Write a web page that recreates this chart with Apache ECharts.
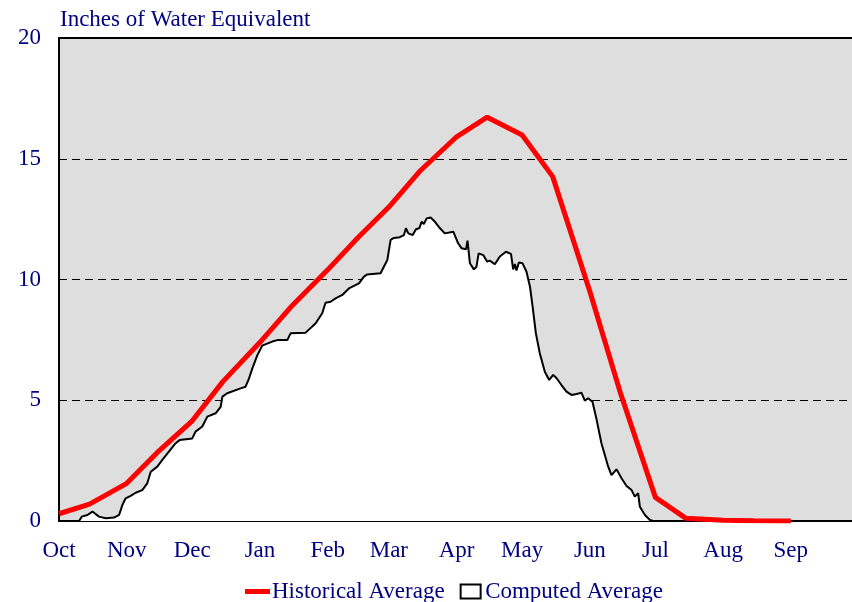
<!DOCTYPE html>
<html>
<head>
<meta charset="utf-8">
<script src="https://cdn.jsdelivr.net/npm/echarts@6/dist/echarts.min.js"></script>
<style>
html,body{margin:0;padding:0;background:#fff;}
#chart{width:852px;height:602px;}
</style>
</head>
<body>
<div id="chart"></div>
<script>
// Month labels (water year, day offsets from Oct 1)
var monthNames = ['Oct','Nov','Dec','Jan','Feb','Mar','Apr','May','Jun','Jul','Aug','Sep'];
var monthStarts = [0,31,61,92,123,151,182,212,243,273,304,335];
var yTicks = [0,5,10,15,20];

// Historical Average (day of water year, inches)
var histDays = [0,14,31,45,61,75,92,106,123,137,151,165,182,196,212,226,243,257,273,287,304,318,335];
var histVals = [0.3,0.7,1.56,2.84,4.15,5.77,7.4,8.85,10.4,11.75,13.0,14.47,15.91,16.72,15.98,14.26,9.5,5.3,0.98,0.11,0.03,0.01,0.0];

// Computed Average (day of water year, inches)
var compDays = [9.2,10.4,13,15.3,16,18.3,21.4,25.2,27.5,29,30.5,32.8,35.1,38.1,40.4,42,45,47.3,50.3,53.4,55.2,61,62.5,65.6,67.9,71.7,74,74.8,77,83.1,85.4,87,88.5,90.8,93,97.6,100,104.5,106,112.9,117.5,120.5,122,124.3,126.6,129.7,132.7,137.3,139.6,141.1,147.2,148.7,150.3,151.8,153.3,156,157.9,158.8,159.9,161.9,163.4,164.9,166,167,168.3,170.1,172.1,174.4,176.6,180.5,182.7,184.3,186.3,187,188.1,189.9,191.1,192.1,194.2,196,197.2,199.5,201.8,204.6,206.9,207.9,208.7,209.4,210.5,212.2,214,215.6,216.8,218.3,220.1,222.4,224.4,226.2,227.8,230,232.3,234.6,236.9,239.2,240.7,242.2,244.2,245.8,248.3,251.4,252.9,255.2,257.5,259.8,262.1,263.6,265.1,265.9,268.2,270.5,272];
var compVals = [0,0.18,0.25,0.39,0.32,0.18,0.11,0.14,0.25,0.66,0.94,1.04,1.17,1.28,1.56,2.04,2.25,2.53,2.87,3.22,3.35,3.42,3.70,3.91,4.32,4.46,4.73,5.15,5.29,5.49,5.56,5.91,6.32,6.87,7.26,7.43,7.49,7.49,7.77,7.80,8.19,8.60,9.04,9.08,9.22,9.36,9.63,9.84,10.12,10.21,10.26,10.53,10.81,11.64,11.72,11.75,11.84,12.12,11.91,11.84,12.08,12.12,12.39,12.3,12.53,12.57,12.39,12.12,11.91,11.98,11.5,11.29,11.25,11.61,10.67,10.42,10.53,11.08,11.01,10.74,10.78,10.63,10.95,11.15,11.06,10.42,10.64,10.37,10.7,10.67,10.32,9.70,8.88,7.77,6.94,6.18,5.84,6.05,5.91,5.63,5.36,5.22,5.26,5.31,4.98,5.08,4.94,4.32,3.22,2.25,1.90,2.14,1.77,1.45,1.28,1.01,1.15,0.59,0.25,0.04,0];

function zip(a, b) { var r = []; for (var i = 0; i < a.length; i++) r.push([a[i], b[i]]); return r; }

var navy = '#000080';
var font = '"Liberation Serif","Times New Roman",serif';
var fs = 23;
var chart = echarts.init(document.getElementById('chart'), null, {renderer: 'canvas'});
chart.setOption({
  animation: false,
  backgroundColor: '#fff',
  title: {
    text: 'Inches of Water Equivalent',
    left: 55, top: 3,
    textStyle: {fontFamily: font, fontSize: fs, fontWeight: 'normal', color: navy}
  },
  grid: {left: 59, right: 0, top: 38, bottom: 81, show: true, backgroundColor: '#dedede', borderWidth: 0},
  legend: {
    left: 240, top: 575,
    itemGap: 15, itemWidth: 25, itemHeight: 14,
    textStyle: {fontFamily: font, fontSize: fs, color: navy, padding: [0,0,0,-3]},
    data: [
      {name: 'Historical Average', icon: 'path://M0,0 H25 V5 H0 Z', itemStyle: {color: '#ff0000', borderWidth: 0}},
      {name: 'Computed Average', icon: 'path://M0,0 H20 V14 H0 Z', itemStyle: {color: '#fff', borderColor: '#000', borderWidth: 2}}
    ]
  },
  xAxis: [{
    type: 'value', min: 0, max: 363,
    axisLine: {show: true, onZero: false, lineStyle: {color: '#000', width: 2}},
    axisTick: {show: false},
    splitLine: {show: false},
    axisLabel: {
      customValues: monthStarts,
      margin: 18,
      fontFamily: font, fontSize: fs, color: navy,
      formatter: function (v) { var i = monthStarts.indexOf(Math.round(v)); return i >= 0 ? monthNames[i] : ''; }
    }
  }, {
    type: 'value', min: 0, max: 363, position: 'top',
    axisLine: {show: true, onZero: false, lineStyle: {color: '#000', width: 2}},
    axisTick: {show: false}, axisLabel: {show: false}, splitLine: {show: false}
  }],
  yAxis: {
    type: 'value', min: 0, max: 20, interval: 5,
    axisLine: {show: true, onZero: false, lineStyle: {color: '#000', width: 2}},
    axisTick: {show: false},
    axisLabel: {
      margin: 18, fontFamily: font, fontSize: fs, color: navy,
      customValues: yTicks
    },
    splitLine: {show: true, showMinLine: false, showMaxLine: false, lineStyle: {color: '#000', width: 1, type: [8, 5]}}
  },
  series: [{
    name: 'Computed Average', type: 'line', data: zip(compDays, compVals),
    showSymbol: false, symbol: 'none', z: 3,
    lineStyle: {color: '#000', width: 2},
    itemStyle: {color: '#fff', borderColor: '#000'},
    areaStyle: {color: '#fff', opacity: 1}
  }, {
    name: 'Historical Average', type: 'line', data: zip(histDays, histVals),
    showSymbol: false, symbol: 'none', z: 4,
    lineStyle: {color: '#ff0000', width: 5},
    itemStyle: {color: '#ff0000'}
  }]
});
</script>
</body>
</html>
